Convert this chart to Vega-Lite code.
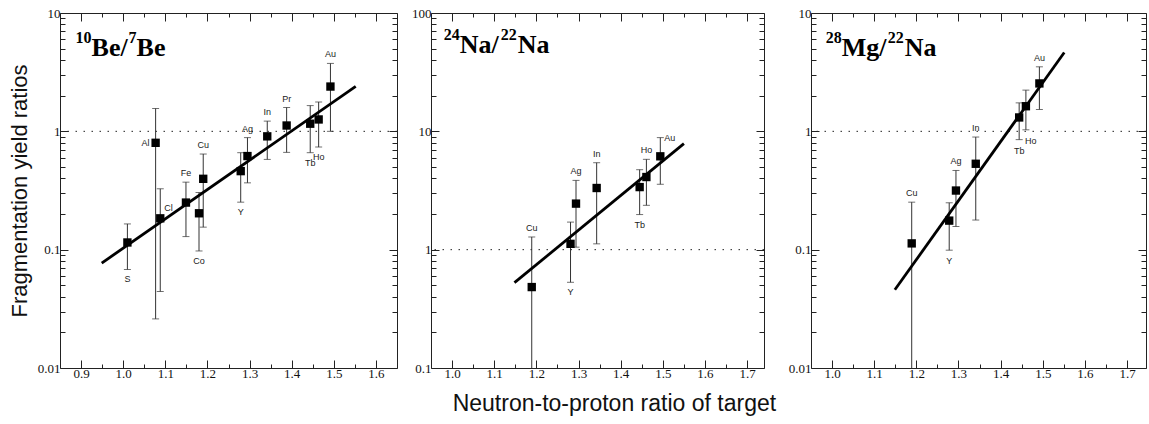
{
  "$schema": "https://vega.github.io/schema/vega-lite/v6.json",
  "padding": {"left": 7, "top": 6, "right": 0, "bottom": 0},
  "background": "white",
  "spacing": 13,
  "config": {
    "view": {"stroke": "#222", "strokeWidth": 1},
    "axis": {"grid": false, "domain": false, "tickColor": "#222", "tickWidth": 1, "labelFont": "Liberation Serif", "labelFontSize": 13, "labelColor": "#111"},
    "axisX": {"labelPadding": 7},
    "axisY": {"labelPadding": 8},
    "text": {"font": "Liberation Sans", "fontSize": 9, "color": "#222"}
  },
  "title": {"text": "Neutron-to-proton ratio of target", "orient": "bottom", "anchor": "middle", "font": "Liberation Sans", "fontSize": 23, "fontWeight": "normal", "color": "#111", "offset": 12, "dx": 37},
  "datasets": {
    "one": [{}],
    "pts": [
      {"p": "Be", "t": "S", "x": 1.010, "v": 0.115, "lo": 0.068, "hi": 0.165, "pos": "below"},
      {"p": "Be", "t": "Al", "x": 1.077, "v": 0.80, "lo": 0.026, "hi": 1.56, "pos": "left"},
      {"p": "Be", "t": "Cl", "x": 1.088, "v": 0.184, "lo": 0.0443, "hi": 0.327, "pos": "right"},
      {"p": "Be", "t": "Fe", "x": 1.149, "v": 0.25, "lo": 0.129, "hi": 0.372, "pos": "above"},
      {"p": "Be", "t": "Co", "x": 1.180, "v": 0.203, "lo": 0.0975, "hi": 0.304, "pos": "below"},
      {"p": "Be", "t": "Cu", "x": 1.190, "v": 0.397, "lo": 0.155, "hi": 0.643, "pos": "above"},
      {"p": "Be", "t": "Y", "x": 1.279, "v": 0.461, "lo": 0.252, "hi": 0.66, "pos": "below"},
      {"p": "Be", "t": "Ag", "x": 1.295, "v": 0.618, "lo": 0.367, "hi": 0.885, "pos": "above"},
      {"p": "Be", "t": "In", "x": 1.342, "v": 0.907, "lo": 0.579, "hi": 1.22, "pos": "above"},
      {"p": "Be", "t": "Pr", "x": 1.388, "v": 1.12, "lo": 0.664, "hi": 1.59, "pos": "above"},
      {"p": "Be", "t": "Tb", "x": 1.444, "v": 1.16, "lo": 0.66, "hi": 1.65, "pos": "below"},
      {"p": "Be", "t": "Ho", "x": 1.464, "v": 1.26, "lo": 0.736, "hi": 1.77, "pos": "below"},
      {"p": "Be", "t": "Au", "x": 1.492, "v": 2.39, "lo": 1.0, "hi": 3.75, "pos": "above"},
      {"p": "Na", "t": "Cu", "x": 1.189, "v": 0.483, "lo": 0.1, "hi": 1.28, "pos": "above"},
      {"p": "Na", "t": "Y", "x": 1.281, "v": 1.12, "lo": 0.53, "hi": 1.71, "pos": "below"},
      {"p": "Na", "t": "Ag", "x": 1.294, "v": 2.45, "lo": 1.05, "hi": 3.85, "pos": "above"},
      {"p": "Na", "t": "In", "x": 1.343, "v": 3.32, "lo": 1.12, "hi": 5.43, "pos": "above"},
      {"p": "Na", "t": "Tb", "x": 1.445, "v": 3.38, "lo": 1.98, "hi": 4.74, "pos": "below"},
      {"p": "Na", "t": "Ho", "x": 1.461, "v": 4.11, "lo": 2.37, "hi": 5.8, "pos": "above"},
      {"p": "Na", "t": "Au", "x": 1.494, "v": 6.15, "lo": 3.57, "hi": 8.85, "pos": "righttop"},
      {"p": "Mg", "t": "Cu", "x": 1.189, "v": 0.113, "lo": 0.01, "hi": 0.252, "pos": "above"},
      {"p": "Mg", "t": "Y", "x": 1.278, "v": 0.176, "lo": 0.099, "hi": 0.249, "pos": "below"},
      {"p": "Mg", "t": "Ag", "x": 1.294, "v": 0.316, "lo": 0.157, "hi": 0.467, "pos": "above"},
      {"p": "Mg", "t": "In", "x": 1.341, "v": 0.532, "lo": 0.178, "hi": 0.895, "pos": "above"},
      {"p": "Mg", "t": "Tb", "x": 1.444, "v": 1.31, "lo": 0.851, "hi": 1.74, "pos": "below"},
      {"p": "Mg", "t": "Ho", "x": 1.460, "v": 1.63, "lo": 1.03, "hi": 2.23, "pos": "belowright"},
      {"p": "Mg", "t": "Au", "x": 1.492, "v": 2.54, "lo": 1.53, "hi": 3.51, "pos": "above"}
    ],
    "fit": [
      {"p": "Be", "x": 0.949, "y": 0.077},
      {"p": "Be", "x": 1.552, "y": 2.40},
      {"p": "Na", "x": 1.148, "y": 0.526},
      {"p": "Na", "x": 1.550, "y": 7.87},
      {"p": "Mg", "x": 1.149, "y": 0.0458},
      {"p": "Mg", "x": 1.551, "y": 4.64}
    ]
  },
  "hconcat": [
    {
      "width": 337, "height": 355,
      "resolve": {"axis": {"x": "independent", "y": "independent"}},
      "layer": [
        {"data": {"name": "one"},
         "mark": {"type": "rule", "strokeDash": [1.5, 6.5], "color": "#222", "strokeWidth": 1},
         "encoding": {"y": {"datum": 1, "type": "quantitative", "scale": {"type": "log", "domain": [0.01, 10], "nice": false}, "axis": null}}},
        {"data": {"name": "pts"}, "transform": [{"filter": "datum.p=='Be'"}],
         "mark": {"type": "rule", "color": "#333", "strokeWidth": 1},
         "encoding": {
           "x": {"field": "x", "type": "quantitative", "scale": {"domain": [0.85, 1.65], "nice": false, "zero": false},
                 "axis": {"orient": "bottom", "values": [0.9, 1.0, 1.1, 1.2, 1.3, 1.4, 1.5, 1.6], "tickSize": -8, "format": ".1f", "title": null}},
           "y": {"field": "lo", "type": "quantitative", "scale": {"type": "log", "domain": [0.01, 10], "nice": false},
                 "axis": {"orient": "left", "values": [0.01, 0.1, 1, 10], "tickSize": -8, "format": "~g", "title": "Fragmentation yield ratios", "titleFont": "Liberation Sans", "titleFontSize": 22, "titleFontWeight": "normal", "titleColor": "#111", "titlePadding": 6}},
           "y2": {"field": "hi"}
         }},
        {"data": {"name": "pts"}, "transform": [{"filter": "datum.p=='Be'"}],
         "mark": {"type": "tick", "orient": "horizontal", "size": 7, "thickness": 1, "color": "#333"},
         "encoding": {
           "x": {"field": "x", "type": "quantitative", "axis": {"orient": "top", "values": [0.9, 1.0, 1.1, 1.2, 1.3, 1.4, 1.5, 1.6], "tickSize": -8, "labels": false, "title": null}},
           "y": {"field": "hi", "type": "quantitative", "axis": {"orient": "right", "values": [0.01, 0.1, 1, 10], "tickSize": -8, "labels": false, "title": null}}
         }},
        {"data": {"name": "pts"}, "transform": [{"filter": "datum.p=='Be'"}],
         "mark": {"type": "tick", "orient": "horizontal", "size": 7, "thickness": 1, "color": "#333"},
         "encoding": {
           "x": {"field": "x", "type": "quantitative", "axis": {"orient": "bottom", "values": [0.95, 1.05, 1.15, 1.25, 1.35, 1.45, 1.55], "tickSize": -4, "labels": false, "title": null}},
           "y": {"field": "lo", "type": "quantitative", "axis": {"orient": "left", "values": [0.02, 0.03, 0.04, 0.05, 0.06, 0.07, 0.08, 0.09, 0.2, 0.3, 0.4, 0.5, 0.6, 0.7, 0.8, 0.9, 2, 3, 4, 5, 6, 7, 8, 9], "tickSize": -5, "labels": false, "title": null}}
         }},
        {"data": {"name": "pts"}, "transform": [{"filter": "datum.p=='Be'"}],
         "mark": {"type": "square", "size": 70, "color": "#000", "opacity": 1},
         "encoding": {
           "x": {"field": "x", "type": "quantitative", "axis": {"orient": "top", "values": [0.95, 1.05, 1.15, 1.25, 1.35, 1.45, 1.55], "tickSize": -4, "labels": false, "title": null}},
           "y": {"field": "v", "type": "quantitative", "axis": {"orient": "right", "values": [0.02, 0.03, 0.04, 0.05, 0.06, 0.07, 0.08, 0.09, 0.2, 0.3, 0.4, 0.5, 0.6, 0.7, 0.8, 0.9, 2, 3, 4, 5, 6, 7, 8, 9], "tickSize": -5, "labels": false, "title": null}}
         }},
        {"data": {"name": "fit"}, "transform": [{"filter": "datum.p=='Be'"}],
         "mark": {"type": "line", "color": "#000", "strokeWidth": 2.8},
         "encoding": {"x": {"field": "x", "type": "quantitative", "axis": null}, "y": {"field": "y", "type": "quantitative", "axis": null}}},
        {"data": {"name": "pts"}, "transform": [{"filter": "datum.p=='Be' && datum.pos=='above'"}],
         "mark": {"type": "text", "dy": -9, "baseline": "middle", "align": "center", "color": "#222"},
         "encoding": {"x": {"field": "x", "type": "quantitative", "axis": null}, "y": {"field": "hi", "type": "quantitative", "axis": null}, "text": {"field": "t"}}},
        {"data": {"name": "pts"}, "transform": [{"filter": "datum.p=='Be' && datum.pos=='below'"}],
         "mark": {"type": "text", "dy": 10, "baseline": "middle", "align": "center", "color": "#222"},
         "encoding": {"x": {"field": "x", "type": "quantitative", "axis": null}, "y": {"field": "lo", "type": "quantitative", "axis": null}, "text": {"field": "t"}}},
        {"data": {"name": "pts"}, "transform": [{"filter": "datum.p=='Be' && datum.pos=='left'"}],
         "mark": {"type": "text", "dx": -6, "baseline": "middle", "align": "right", "color": "#222"},
         "encoding": {"x": {"field": "x", "type": "quantitative", "axis": null}, "y": {"field": "v", "type": "quantitative", "axis": null}, "text": {"field": "t"}}},
        {"data": {"name": "pts"}, "transform": [{"filter": "datum.p=='Be' && datum.pos=='right'"}],
         "mark": {"type": "text", "dx": 4, "dy": -10, "baseline": "middle", "align": "left", "color": "#222"},
         "encoding": {"x": {"field": "x", "type": "quantitative", "axis": null}, "y": {"field": "v", "type": "quantitative", "axis": null}, "text": {"field": "t"}}},
        {"data": {"name": "one"},
         "mark": {"type": "text", "font": "Liberation Serif", "fontSize": 16, "fontWeight": "bold", "color": "#000", "align": "left", "baseline": "alphabetic", "dy": -13},
         "encoding": {"x": {"datum": 0.887, "type": "quantitative", "axis": null}, "y": {"datum": 4.36, "type": "quantitative", "axis": null}, "text": {"value": "10"}}},
        {"data": {"name": "one"},
         "mark": {"type": "text", "font": "Liberation Serif", "fontSize": 26, "fontWeight": "bold", "color": "#000", "align": "left", "baseline": "alphabetic", "dx": 16},
         "encoding": {"x": {"datum": 0.887, "type": "quantitative", "axis": null}, "y": {"datum": 4.36, "type": "quantitative", "axis": null}, "text": {"value": "Be/"}}},
        {"data": {"name": "one"},
         "mark": {"type": "text", "font": "Liberation Serif", "fontSize": 16, "fontWeight": "bold", "color": "#000", "align": "left", "baseline": "alphabetic", "dx": 53, "dy": -13},
         "encoding": {"x": {"datum": 0.887, "type": "quantitative", "axis": null}, "y": {"datum": 4.36, "type": "quantitative", "axis": null}, "text": {"value": "7"}}},
        {"data": {"name": "one"},
         "mark": {"type": "text", "font": "Liberation Serif", "fontSize": 26, "fontWeight": "bold", "color": "#000", "align": "left", "baseline": "alphabetic", "dx": 61},
         "encoding": {"x": {"datum": 0.887, "type": "quantitative", "axis": null}, "y": {"datum": 4.36, "type": "quantitative", "axis": null}, "text": {"value": "Be"}}}
      ]
    },
    {
      "spacing": 22,
      "hconcat": [
        {
          "width": 333, "height": 355,
          "resolve": {"axis": {"x": "independent", "y": "independent"}},
          "layer": [
            {"data": {"name": "one"},
             "mark": {"type": "rule", "strokeDash": [1.5, 6.5], "color": "#222", "strokeWidth": 1},
             "encoding": {"y": {"datum": 1, "type": "quantitative", "scale": {"type": "log", "domain": [0.1, 100], "nice": false}, "axis": null}}},
            {"data": {"name": "pts"}, "transform": [{"filter": "datum.p=='Na'"}],
             "mark": {"type": "rule", "color": "#333", "strokeWidth": 1},
             "encoding": {
               "x": {"field": "x", "type": "quantitative", "scale": {"domain": [0.95, 1.74], "nice": false, "zero": false},
                     "axis": {"orient": "bottom", "values": [1.0, 1.1, 1.2, 1.3, 1.4, 1.5, 1.6, 1.7], "tickSize": -8, "format": ".1f", "title": null}},
               "y": {"field": "lo", "type": "quantitative", "scale": {"type": "log", "domain": [0.1, 100], "nice": false},
                     "axis": {"orient": "left", "values": [0.1, 1, 10, 100], "tickSize": -8, "format": "~g", "title": null}},
               "y2": {"field": "hi"}
             }},
            {"data": {"name": "pts"}, "transform": [{"filter": "datum.p=='Na'"}],
             "mark": {"type": "tick", "orient": "horizontal", "size": 7, "thickness": 1, "color": "#333"},
             "encoding": {
               "x": {"field": "x", "type": "quantitative", "axis": {"orient": "top", "values": [1.0, 1.1, 1.2, 1.3, 1.4, 1.5, 1.6, 1.7], "tickSize": -8, "labels": false, "title": null}},
               "y": {"field": "hi", "type": "quantitative", "axis": {"orient": "right", "values": [0.1, 1, 10, 100], "tickSize": -8, "labels": false, "title": null}}
             }},
            {"data": {"name": "pts"}, "transform": [{"filter": "datum.p=='Na' && datum.lo > 0.1"}],
             "mark": {"type": "tick", "orient": "horizontal", "size": 7, "thickness": 1, "color": "#333"},
             "encoding": {
               "x": {"field": "x", "type": "quantitative", "axis": {"orient": "bottom", "values": [1.05, 1.15, 1.25, 1.35, 1.45, 1.55, 1.65], "tickSize": -4, "labels": false, "title": null}},
               "y": {"field": "lo", "type": "quantitative", "axis": {"orient": "left", "values": [0.2, 0.3, 0.4, 0.5, 0.6, 0.7, 0.8, 0.9, 2, 3, 4, 5, 6, 7, 8, 9, 20, 30, 40, 50, 60, 70, 80, 90], "tickSize": -5, "labels": false, "title": null}}
             }},
            {"data": {"name": "pts"}, "transform": [{"filter": "datum.p=='Na'"}],
             "mark": {"type": "square", "size": 70, "color": "#000", "opacity": 1},
             "encoding": {
               "x": {"field": "x", "type": "quantitative", "axis": {"orient": "top", "values": [1.05, 1.15, 1.25, 1.35, 1.45, 1.55, 1.65], "tickSize": -4, "labels": false, "title": null}},
               "y": {"field": "v", "type": "quantitative", "axis": {"orient": "right", "values": [0.2, 0.3, 0.4, 0.5, 0.6, 0.7, 0.8, 0.9, 2, 3, 4, 5, 6, 7, 8, 9, 20, 30, 40, 50, 60, 70, 80, 90], "tickSize": -5, "labels": false, "title": null}}
             }},
            {"data": {"name": "fit"}, "transform": [{"filter": "datum.p=='Na'"}],
             "mark": {"type": "line", "color": "#000", "strokeWidth": 2.8},
             "encoding": {"x": {"field": "x", "type": "quantitative", "axis": null}, "y": {"field": "y", "type": "quantitative", "axis": null}}},
            {"data": {"name": "pts"}, "transform": [{"filter": "datum.p=='Na' && datum.pos=='above'"}],
             "mark": {"type": "text", "dy": -9, "baseline": "middle", "align": "center", "color": "#222"},
             "encoding": {"x": {"field": "x", "type": "quantitative", "axis": null}, "y": {"field": "hi", "type": "quantitative", "axis": null}, "text": {"field": "t"}}},
            {"data": {"name": "pts"}, "transform": [{"filter": "datum.p=='Na' && datum.pos=='below'"}],
             "mark": {"type": "text", "dy": 10, "baseline": "middle", "align": "center", "color": "#222"},
             "encoding": {"x": {"field": "x", "type": "quantitative", "axis": null}, "y": {"field": "lo", "type": "quantitative", "axis": null}, "text": {"field": "t"}}},
            {"data": {"name": "pts"}, "transform": [{"filter": "datum.p=='Na' && datum.pos=='righttop'"}],
             "mark": {"type": "text", "dx": 4, "baseline": "middle", "align": "left", "color": "#222"},
             "encoding": {"x": {"field": "x", "type": "quantitative", "axis": null}, "y": {"field": "hi", "type": "quantitative", "axis": null}, "text": {"field": "t"}}},
            {"data": {"name": "one"},
             "mark": {"type": "text", "font": "Liberation Serif", "fontSize": 16, "fontWeight": "bold", "color": "#000", "align": "left", "baseline": "alphabetic", "dy": -13},
             "encoding": {"x": {"datum": 0.98, "type": "quantitative", "axis": null}, "y": {"datum": 45.9, "type": "quantitative", "axis": null}, "text": {"value": "24"}}},
            {"data": {"name": "one"},
             "mark": {"type": "text", "font": "Liberation Serif", "fontSize": 26, "fontWeight": "bold", "color": "#000", "align": "left", "baseline": "alphabetic", "dx": 16},
             "encoding": {"x": {"datum": 0.98, "type": "quantitative", "axis": null}, "y": {"datum": 45.9, "type": "quantitative", "axis": null}, "text": {"value": "Na/"}}},
            {"data": {"name": "one"},
             "mark": {"type": "text", "font": "Liberation Serif", "fontSize": 16, "fontWeight": "bold", "color": "#000", "align": "left", "baseline": "alphabetic", "dx": 57, "dy": -13},
             "encoding": {"x": {"datum": 0.98, "type": "quantitative", "axis": null}, "y": {"datum": 45.9, "type": "quantitative", "axis": null}, "text": {"value": "22"}}},
            {"data": {"name": "one"},
             "mark": {"type": "text", "font": "Liberation Serif", "fontSize": 26, "fontWeight": "bold", "color": "#000", "align": "left", "baseline": "alphabetic", "dx": 74},
             "encoding": {"x": {"datum": 0.98, "type": "quantitative", "axis": null}, "y": {"datum": 45.9, "type": "quantitative", "axis": null}, "text": {"value": "Na"}}}
          ]
        },
        {
          "width": 335, "height": 355,
          "resolve": {"axis": {"x": "independent", "y": "independent"}},
          "layer": [
            {"data": {"name": "one"},
             "mark": {"type": "rule", "strokeDash": [1.5, 6.5], "color": "#222", "strokeWidth": 1},
             "encoding": {"y": {"datum": 1, "type": "quantitative", "scale": {"type": "log", "domain": [0.01, 10], "nice": false}, "axis": null}}},
            {"data": {"name": "pts"}, "transform": [{"filter": "datum.p=='Mg'"}],
             "mark": {"type": "rule", "color": "#333", "strokeWidth": 1},
             "encoding": {
               "x": {"field": "x", "type": "quantitative", "scale": {"domain": [0.95, 1.745], "nice": false, "zero": false},
                     "axis": {"orient": "bottom", "values": [1.0, 1.1, 1.2, 1.3, 1.4, 1.5, 1.6, 1.7], "tickSize": -8, "format": ".1f", "title": null}},
               "y": {"field": "lo", "type": "quantitative", "scale": {"type": "log", "domain": [0.01, 10], "nice": false},
                     "axis": {"orient": "left", "values": [0.01, 0.1, 1, 10], "tickSize": -8, "format": "~g", "title": null}},
               "y2": {"field": "hi"}
             }},
            {"data": {"name": "pts"}, "transform": [{"filter": "datum.p=='Mg'"}],
             "mark": {"type": "tick", "orient": "horizontal", "size": 7, "thickness": 1, "color": "#333"},
             "encoding": {
               "x": {"field": "x", "type": "quantitative", "axis": {"orient": "top", "values": [1.0, 1.1, 1.2, 1.3, 1.4, 1.5, 1.6, 1.7], "tickSize": -8, "labels": false, "title": null}},
               "y": {"field": "hi", "type": "quantitative", "axis": {"orient": "right", "values": [0.01, 0.1, 1, 10], "tickSize": -8, "labels": false, "title": null}}
             }},
            {"data": {"name": "pts"}, "transform": [{"filter": "datum.p=='Mg' && datum.lo > 0.01"}],
             "mark": {"type": "tick", "orient": "horizontal", "size": 7, "thickness": 1, "color": "#333"},
             "encoding": {
               "x": {"field": "x", "type": "quantitative", "axis": {"orient": "bottom", "values": [1.05, 1.15, 1.25, 1.35, 1.45, 1.55, 1.65], "tickSize": -4, "labels": false, "title": null}},
               "y": {"field": "lo", "type": "quantitative", "axis": {"orient": "left", "values": [0.02, 0.03, 0.04, 0.05, 0.06, 0.07, 0.08, 0.09, 0.2, 0.3, 0.4, 0.5, 0.6, 0.7, 0.8, 0.9, 2, 3, 4, 5, 6, 7, 8, 9], "tickSize": -5, "labels": false, "title": null}}
             }},
            {"data": {"name": "pts"}, "transform": [{"filter": "datum.p=='Mg'"}],
             "mark": {"type": "square", "size": 70, "color": "#000", "opacity": 1},
             "encoding": {
               "x": {"field": "x", "type": "quantitative", "axis": {"orient": "top", "values": [1.05, 1.15, 1.25, 1.35, 1.45, 1.55, 1.65], "tickSize": -4, "labels": false, "title": null}},
               "y": {"field": "v", "type": "quantitative", "axis": {"orient": "right", "values": [0.02, 0.03, 0.04, 0.05, 0.06, 0.07, 0.08, 0.09, 0.2, 0.3, 0.4, 0.5, 0.6, 0.7, 0.8, 0.9, 2, 3, 4, 5, 6, 7, 8, 9], "tickSize": -5, "labels": false, "title": null}}
             }},
            {"data": {"name": "fit"}, "transform": [{"filter": "datum.p=='Mg'"}],
             "mark": {"type": "line", "color": "#000", "strokeWidth": 2.8},
             "encoding": {"x": {"field": "x", "type": "quantitative", "axis": null}, "y": {"field": "y", "type": "quantitative", "axis": null}}},
            {"data": {"name": "pts"}, "transform": [{"filter": "datum.p=='Mg' && datum.pos=='above'"}],
             "mark": {"type": "text", "dy": -9, "baseline": "middle", "align": "center", "color": "#222"},
             "encoding": {"x": {"field": "x", "type": "quantitative", "axis": null}, "y": {"field": "hi", "type": "quantitative", "axis": null}, "text": {"field": "t"}}},
            {"data": {"name": "pts"}, "transform": [{"filter": "datum.p=='Mg' && datum.pos=='below'"}],
             "mark": {"type": "text", "dy": 11, "baseline": "middle", "align": "center", "color": "#222"},
             "encoding": {"x": {"field": "x", "type": "quantitative", "axis": null}, "y": {"field": "lo", "type": "quantitative", "axis": null}, "text": {"field": "t"}}},
            {"data": {"name": "pts"}, "transform": [{"filter": "datum.p=='Mg' && datum.pos=='belowright'"}],
             "mark": {"type": "text", "dx": -1, "dy": 11, "baseline": "middle", "align": "left", "color": "#222"},
             "encoding": {"x": {"field": "x", "type": "quantitative", "axis": null}, "y": {"field": "lo", "type": "quantitative", "axis": null}, "text": {"field": "t"}}},
            {"data": {"name": "one"},
             "mark": {"type": "text", "font": "Liberation Serif", "fontSize": 16, "fontWeight": "bold", "color": "#000", "align": "left", "baseline": "alphabetic", "dy": -13},
             "encoding": {"x": {"datum": 0.985, "type": "quantitative", "axis": null}, "y": {"datum": 4.29, "type": "quantitative", "axis": null}, "text": {"value": "28"}}},
            {"data": {"name": "one"},
             "mark": {"type": "text", "font": "Liberation Serif", "fontSize": 26, "fontWeight": "bold", "color": "#000", "align": "left", "baseline": "alphabetic", "dx": 16},
             "encoding": {"x": {"datum": 0.985, "type": "quantitative", "axis": null}, "y": {"datum": 4.29, "type": "quantitative", "axis": null}, "text": {"value": "Mg/"}}},
            {"data": {"name": "one"},
             "mark": {"type": "text", "font": "Liberation Serif", "fontSize": 16, "fontWeight": "bold", "color": "#000", "align": "left", "baseline": "alphabetic", "dx": 62, "dy": -13},
             "encoding": {"x": {"datum": 0.985, "type": "quantitative", "axis": null}, "y": {"datum": 4.29, "type": "quantitative", "axis": null}, "text": {"value": "22"}}},
            {"data": {"name": "one"},
             "mark": {"type": "text", "font": "Liberation Serif", "fontSize": 26, "fontWeight": "bold", "color": "#000", "align": "left", "baseline": "alphabetic", "dx": 79},
             "encoding": {"x": {"datum": 0.985, "type": "quantitative", "axis": null}, "y": {"datum": 4.29, "type": "quantitative", "axis": null}, "text": {"value": "Na"}}}
          ]
        }
      ]
    }
  ]
}
